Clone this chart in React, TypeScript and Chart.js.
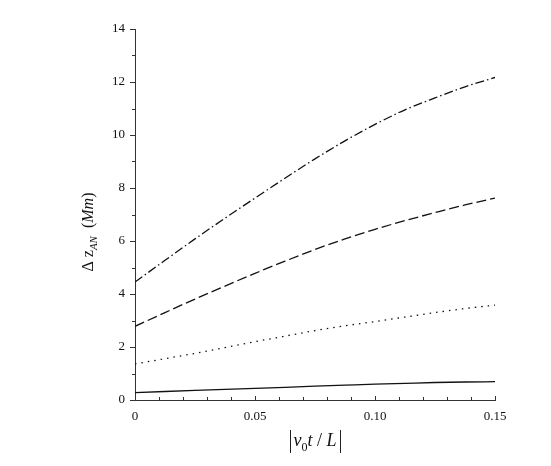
import React, { useEffect, useRef } from "react";
import { Chart, registerables } from "chart.js";

Chart.register(...registerables);

// Dimensionless time |v0 t / L|
const xValues = [0, 0.0125, 0.025, 0.0375, 0.05, 0.0625, 0.075, 0.0875, 0.1, 0.1125, 0.125, 0.1375, 0.15];

// Δz_AN (Mm) for the four cases
const solidSeries = [0.28, 0.32, 0.36, 0.4, 0.44, 0.48, 0.52, 0.56, 0.6, 0.63, 0.66, 0.68, 0.69];
const dottedSeries = [1.36, 1.56, 1.76, 1.98, 2.2, 2.41, 2.62, 2.8, 2.96, 3.13, 3.3, 3.45, 3.58];
const dashedSeries = [2.78, 3.3, 3.81, 4.3, 4.78, 5.24, 5.68, 6.08, 6.44, 6.77, 7.07, 7.36, 7.62];
const dashDotSeries = [4.45, 5.27, 6.08, 6.86, 7.62, 8.37, 9.1, 9.78, 10.4, 10.95, 11.4, 11.82, 12.17];

const xTickLabels = ["0", "0.05", "0.10", "0.15"];
const xMinorStep = 0.01;
const yMax = 14;

const SERIF = "'Liberation Serif', 'Times New Roman', serif";

const toPoints = (ys: number[]) => xValues.map((x, i) => ({ x, y: ys[i] }));

// Minor/major tick marks and the rich-text axis titles
const axisDecor = {
  id: "axisDecor",
  afterDraw(chart: any) {
    const { ctx, chartArea } = chart;
    const xs = chart.scales.x;
    const ys = chart.scales.y;
    ctx.save();
    ctx.strokeStyle = "#333";
    ctx.lineWidth = 1;

    // x ticks point up into the plot
    for (let i = 0; i <= 15; i++) {
      const px = Math.round(xs.getPixelForValue(i * xMinorStep)) + 0.5;
      const len = i % 5 === 0 ? 4 : 3;
      ctx.beginPath();
      ctx.moveTo(px, chartArea.bottom);
      ctx.lineTo(px, chartArea.bottom - len);
      ctx.stroke();
    }
    // y ticks point out to the left
    for (let v = 0; v <= yMax; v++) {
      const py = Math.round(ys.getPixelForValue(v)) + 0.5;
      const len = v % 2 === 0 ? 5 : 3;
      ctx.beginPath();
      ctx.moveTo(chartArea.left, py);
      ctx.lineTo(chartArea.left - len, py);
      ctx.stroke();
    }

    ctx.fillStyle = "#111";
    ctx.textBaseline = "alphabetic";

    // y title: Δ z_AN (Mm), rotated
    const yParts: { t: string; font: string; dy: number }[] = [
      { t: "Δ z", font: `16px ${SERIF}`, dy: 0 },
      { t: "AN", font: `italic 11px ${SERIF}`, dy: 4 },
      { t: "  (", font: `16px ${SERIF}`, dy: 0 },
      { t: "Mm", font: `italic 16px ${SERIF}`, dy: 0 },
      { t: ")", font: `16px ${SERIF}`, dy: 0 },
    ];
    let total = 0;
    for (const p of yParts) {
      ctx.font = p.font;
      total += ctx.measureText(p.t).width;
    }
    ctx.save();
    ctx.translate(93, 232);
    ctx.rotate(-Math.PI / 2);
    let cx = -total / 2;
    for (const p of yParts) {
      ctx.font = p.font;
      ctx.fillText(p.t, cx, p.dy);
      cx += ctx.measureText(p.t).width;
    }
    ctx.restore();

    // x title: |v0 t / L|
    const xParts: { t: string; font: string; dy: number }[] = [
      { t: "v", font: `italic 18px ${SERIF}`, dy: 0 },
      { t: "0", font: `12px ${SERIF}`, dy: 5 },
      { t: "t", font: `italic 18px ${SERIF}`, dy: 0 },
      { t: " / ", font: `18px ${SERIF}`, dy: 0 },
      { t: "L", font: `italic 18px ${SERIF}`, dy: 0 },
    ];
    let xTotal = 0;
    for (const p of xParts) {
      ctx.font = p.font;
      xTotal += ctx.measureText(p.t).width;
    }
    const center = (chartArea.left + chartArea.right) / 2;
    const baseline = 446;
    const barGap = 3;
    let tx = center - xTotal / 2;
    ctx.lineWidth = 1;
    ctx.strokeStyle = "#222";
    const leftBar = Math.round(tx - barGap) + 0.5;
    ctx.beginPath();
    ctx.moveTo(leftBar, 430);
    ctx.lineTo(leftBar, 453);
    ctx.stroke();
    for (const p of xParts) {
      ctx.font = p.font;
      ctx.fillText(p.t, tx, baseline + p.dy);
      tx += ctx.measureText(p.t).width;
    }
    const rightBar = Math.round(tx + barGap) + 0.5;
    ctx.beginPath();
    ctx.moveTo(rightBar, 430);
    ctx.lineTo(rightBar, 453);
    ctx.stroke();

    ctx.restore();
  },
};

export default function App() {
  const canvasRef = useRef<HTMLCanvasElement | null>(null);

  useEffect(() => {
    document.body.style.margin = "0";
    const canvas = canvasRef.current;
    if (!canvas) return;

    const line = (data: number[], dash: number[]) => ({
      data: toPoints(data),
      borderColor: "#111",
      borderWidth: 1.3,
      borderDash: dash,
      pointRadius: 0,
      fill: false,
      cubicInterpolationMode: "monotone" as const,
    });

    const chart = new Chart(canvas, {
      type: "line",
      data: {
        datasets: [
          line(solidSeries, []),
          line(dottedSeries, [1.5, 5]),
          line(dashedSeries, [10, 4]),
          line(dashDotSeries, [9, 3, 1.5, 3]),
        ],
      },
      options: {
        animation: false,
        responsive: false,
        devicePixelRatio: 1,
        layout: { padding: { left: 0, top: 29, right: 56, bottom: 0 } },
        plugins: {
          legend: { display: false },
          tooltip: { enabled: false },
        },
        scales: {
          x: {
            type: "linear",
            min: 0,
            max: 0.15,
            grid: { display: false, drawTicks: false },
            border: { display: true, color: "#333", width: 1 },
            ticks: {
              stepSize: 0.05,
              padding: 9,
              color: "#111",
              font: { family: SERIF, size: 13 },
              maxRotation: 0,
              callback: (v: any) => {
                const idx = Math.round(Number(v) / 0.05);
                return xTickLabels[idx] ?? "";
              },
            },
            afterFit: (scale: any) => {
              scale.height = 66;
            },
          },
          y: {
            min: 0,
            max: yMax,
            grid: { display: false, drawTicks: false },
            border: { display: true, color: "#333", width: 1 },
            ticks: {
              stepSize: 2,
              padding: 10,
              color: "#111",
              font: { family: SERIF, size: 13 },
            },
            afterFit: (scale: any) => {
              scale.width = 135;
            },
          },
        },
      },
      plugins: [axisDecor],
    });

    return () => chart.destroy();
  }, []);

  return (
    <div style={{ width: 551, height: 466, background: "#fff" }}>
      <canvas ref={canvasRef} width={551} height={466} />
    </div>
  );
}
